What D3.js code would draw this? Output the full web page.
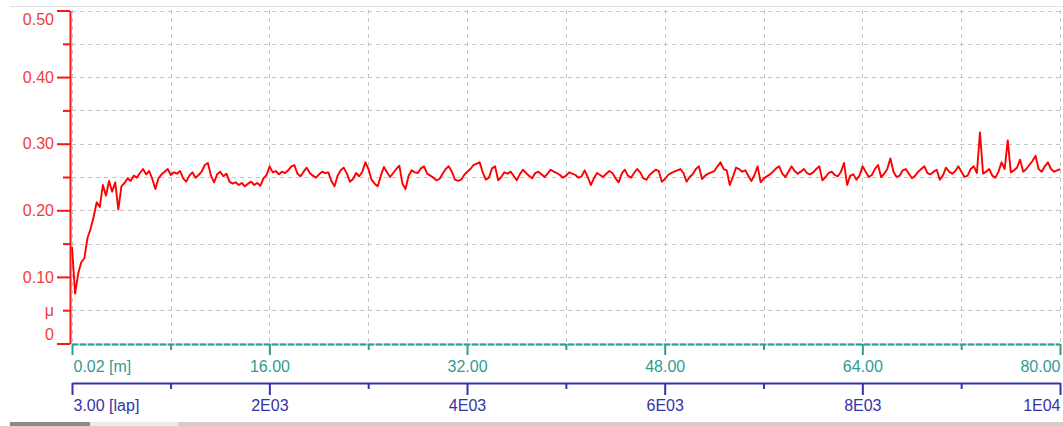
<!DOCTYPE html>
<html><head><meta charset="utf-8">
<script src="https://cdn.jsdelivr.net/npm/d3@7"></script>
<style>
body{margin:0;background:#fff}
svg{display:block}
text{font-family:"Liberation Sans",Arial,sans-serif}
</style>
</head><body>
<svg id="c" width="1063" height="426"></svg>
<script>
// ---- data ----
const distanceStart = 0.02;   // m
const distanceStep = 0.25;    // m between samples
const frictionMu = [
0.145,0.075,0.105,0.122,0.128,0.158,0.172,0.190,0.212,0.205,
0.238,0.222,0.244,0.228,0.242,0.201,0.236,0.241,0.248,0.244,
0.252,0.249,0.256,0.262,0.254,0.259,0.247,0.232,0.248,0.254,
0.258,0.262,0.253,0.257,0.255,0.259,0.248,0.243,0.252,0.257,
0.249,0.253,0.258,0.268,0.271,0.252,0.242,0.254,0.258,0.251,
0.255,0.243,0.240,0.242,0.238,0.241,0.236,0.240,0.243,0.238,
0.241,0.237,0.248,0.253,0.266,0.257,0.259,0.254,0.258,0.256,
0.260,0.266,0.268,0.255,0.251,0.258,0.264,0.256,0.252,0.249,
0.254,0.258,0.256,0.257,0.244,0.236,0.252,0.260,0.264,0.255,
0.243,0.247,0.256,0.251,0.258,0.272,0.262,0.246,0.240,0.236,
0.252,0.265,0.257,0.250,0.256,0.262,0.267,0.240,0.232,0.252,
0.260,0.257,0.256,0.263,0.266,0.255,0.252,0.249,0.245,0.247,
0.255,0.262,0.266,0.258,0.246,0.244,0.246,0.253,0.258,0.262,
0.268,0.270,0.272,0.257,0.246,0.249,0.263,0.266,0.245,0.250,
0.257,0.255,0.258,0.252,0.245,0.254,0.261,0.256,0.252,0.248,
0.256,0.258,0.254,0.250,0.255,0.261,0.258,0.256,0.253,0.249,
0.252,0.257,0.255,0.253,0.249,0.251,0.260,0.250,0.238,0.248,
0.256,0.253,0.250,0.255,0.259,0.256,0.248,0.242,0.255,0.261,
0.252,0.249,0.256,0.262,0.257,0.248,0.246,0.253,0.257,
0.261,0.259,0.243,0.247,0.253,0.256,0.258,0.260,0.262,0.256,
0.243,0.250,0.254,0.262,0.266,0.247,0.252,0.255,0.257,0.259,
0.266,0.272,0.262,0.260,0.238,0.250,0.264,0.262,0.258,0.260,
0.252,0.244,0.253,0.266,0.242,0.248,0.251,0.254,0.258,0.263,
0.266,0.255,0.250,0.258,0.266,0.259,0.255,0.258,0.262,0.256,
0.254,0.257,0.262,0.266,0.245,0.250,0.256,0.258,0.253,0.251,
0.258,0.271,0.238,0.252,
0.254,0.246,0.252,0.266,0.258,
0.250,0.253,0.262,0.268,0.250,0.255,0.262,0.278,0.258,0.250,
0.252,0.260,0.262,0.255,0.248,0.252,0.258,0.262,0.266,0.256,
0.254,0.258,0.261,0.246,0.252,0.264,0.258,0.255,0.259,0.266,
0.258,0.250,0.252,0.262,0.266,0.256,0.317,0.255,0.258,0.262,
0.252,0.249,0.258,0.272,0.262,0.305,0.257,0.260,0.264,0.276,
0.258,0.262,0.268,0.274,0.282,0.262,0.258,0.266,0.272,
0.262,0.258,0.260,0.262
];
const yTickValues = [0,0.05,0.10,0.15,0.20,0.25,0.30,0.35,0.40,0.45,0.50];
const yTickLabels = ["0","\u03bc","0.10","","0.20","","0.30","","0.40","","0.50"];
const distTickValues = [0.02,8,16,24,32,40,48,56,64,72,80];
const distTickLabels = ["0.02 [m]","","16.00","","32.00","","48.00","","64.00","","80.00"];
const lapTickValues = [3,1000,2000,3000,4000,5000,6000,7000,8000,9000,10000];
const lapTickLabels = ["3.00 [lap]","","2E03","","4E03","","6E03","","8E03","","1E04"];

// ---- drawing ----
const W = 1063, H = 426, FS = "16px";
const RED = "#ff1414", RED_T = "#f23c3c", TEAL = "#2f9d93", BLUE = "#3434a8";
const svg = d3.select("#c");
const x = d3.scaleLinear().domain([0.02, 80]).range([72, 1060]);
const xLap = d3.scaleLinear().domain([3, 10000]).range([72, 1060]);
const y = d3.scaleLinear().domain([0, 0.5]).range([343.5, 10.5]);
const distance = frictionMu.map((_, i) => distanceStart + i * distanceStep);

// frame bits
svg.append("line").attr("x1", 10).attr("x2", W).attr("y1", 6.5).attr("y2", 6.5)
  .attr("stroke", "#e2e2e2").attr("stroke-width", 1);
svg.append("rect").attr("x", 178).attr("y", 422).attr("width", W - 178).attr("height", 4).attr("fill", "#d3cfc7");
svg.append("rect").attr("x", 90).attr("y", 422).attr("width", 88).attr("height", 4).attr("fill", "#ebebeb");
svg.append("rect").attr("x", 10).attr("y", 422).attr("width", 80).attr("height", 4).attr("fill", "#8a8a8a");

// grid
const grid = svg.append("g").attr("stroke", "#c6c6c6").attr("stroke-width", 1).attr("stroke-dasharray", "4,4");
grid.selectAll("line.h").data(yTickValues.filter(v => v > 0)).join("line")
  .attr("class", "h")
  .attr("x1", 72).attr("x2", 1060)
  .attr("y1", d => Math.round(y(d)) + 0.5).attr("y2", d => Math.round(y(d)) + 0.5);
grid.selectAll("line.v").data(distTickValues).join("line")
  .attr("class", "v")
  .attr("x1", d => Math.round(x(d)) + 0.5).attr("x2", d => Math.round(x(d)) + 0.5)
  .attr("y1", 10).attr("y2", 343);

// data line
svg.append("clipPath").attr("id", "clip").append("rect")
  .attr("x", 71).attr("y", 0).attr("width", 990).attr("height", 344);
const line = d3.line().x((d, i) => x(distance[i])).y(d => y(d));
svg.append("path").datum(frictionMu)
  .attr("clip-path", "url(#clip)")
  .attr("d", line).attr("fill", "none").attr("stroke", "#ff0000")
  .attr("stroke-width", 1.9).attr("stroke-linejoin", "round");

// y axis
const gy = svg.append("g").attr("transform", "translate(70,0)")
  .call(d3.axisLeft(y).tickValues(yTickValues).tickFormat((d, i) => yTickLabels[i]).tickSizeOuter(0));
gy.select(".domain").attr("stroke", RED).attr("stroke-width", 2);
gy.selectAll(".tick line").attr("stroke", RED).attr("stroke-width", 2)
  .attr("x2", (d, i) => yTickLabels[i] && yTickLabels[i] !== "\u03bc" ? -13 : -7);
gy.selectAll(".tick text").attr("fill", RED_T).style("font-size", FS).attr("x", -16)
  .attr("y", (d, i) => i === 0 ? -9 : (i === yTickValues.length - 1 ? 9 : 0));

// distance axis (teal)
const gx = svg.append("g").attr("transform", "translate(0,344)")
  .call(d3.axisBottom(x).tickValues(distTickValues).tickFormat((d, i) => distTickLabels[i]).tickSizeOuter(0));
gx.select(".domain").attr("stroke", "#9fd3cd").attr("stroke-width", 2);
gx.append("line").attr("x1", 72).attr("x2", 1060).attr("y1", 0.5).attr("y2", 0.5)
  .attr("stroke", TEAL).attr("stroke-width", 2).attr("stroke-dasharray", "6,2");
gx.selectAll(".tick line").attr("stroke", TEAL).attr("stroke-width", 2)
  .attr("y2", (d, i) => distTickLabels[i] ? 11 : 6);
gx.selectAll(".tick text").attr("fill", TEAL).style("font-size", FS).attr("y", 17)
  .attr("text-anchor", (d, i) => i === 0 ? "start" : (i === distTickValues.length - 1 ? "end" : "middle"))
  .attr("x", (d, i) => i === 0 ? 1 : 0);

// lap axis (blue)
const gl = svg.append("g").attr("transform", "translate(0,383)")
  .call(d3.axisBottom(xLap).tickValues(lapTickValues).tickFormat((d, i) => lapTickLabels[i]).tickSizeOuter(0));
gl.select(".domain").attr("stroke", BLUE).attr("stroke-width", 2);
gl.selectAll(".tick line").attr("stroke", BLUE).attr("stroke-width", 2)
  .attr("y2", (d, i) => lapTickLabels[i] ? 12 : 6);
gl.selectAll(".tick text").attr("fill", BLUE).style("font-size", FS).attr("y", 17)
  .attr("text-anchor", (d, i) => i === 0 ? "start" : (i === lapTickValues.length - 1 ? "end" : "middle"))
  .attr("x", (d, i) => i === 0 ? 1 : 0);
</script>
</body></html>
